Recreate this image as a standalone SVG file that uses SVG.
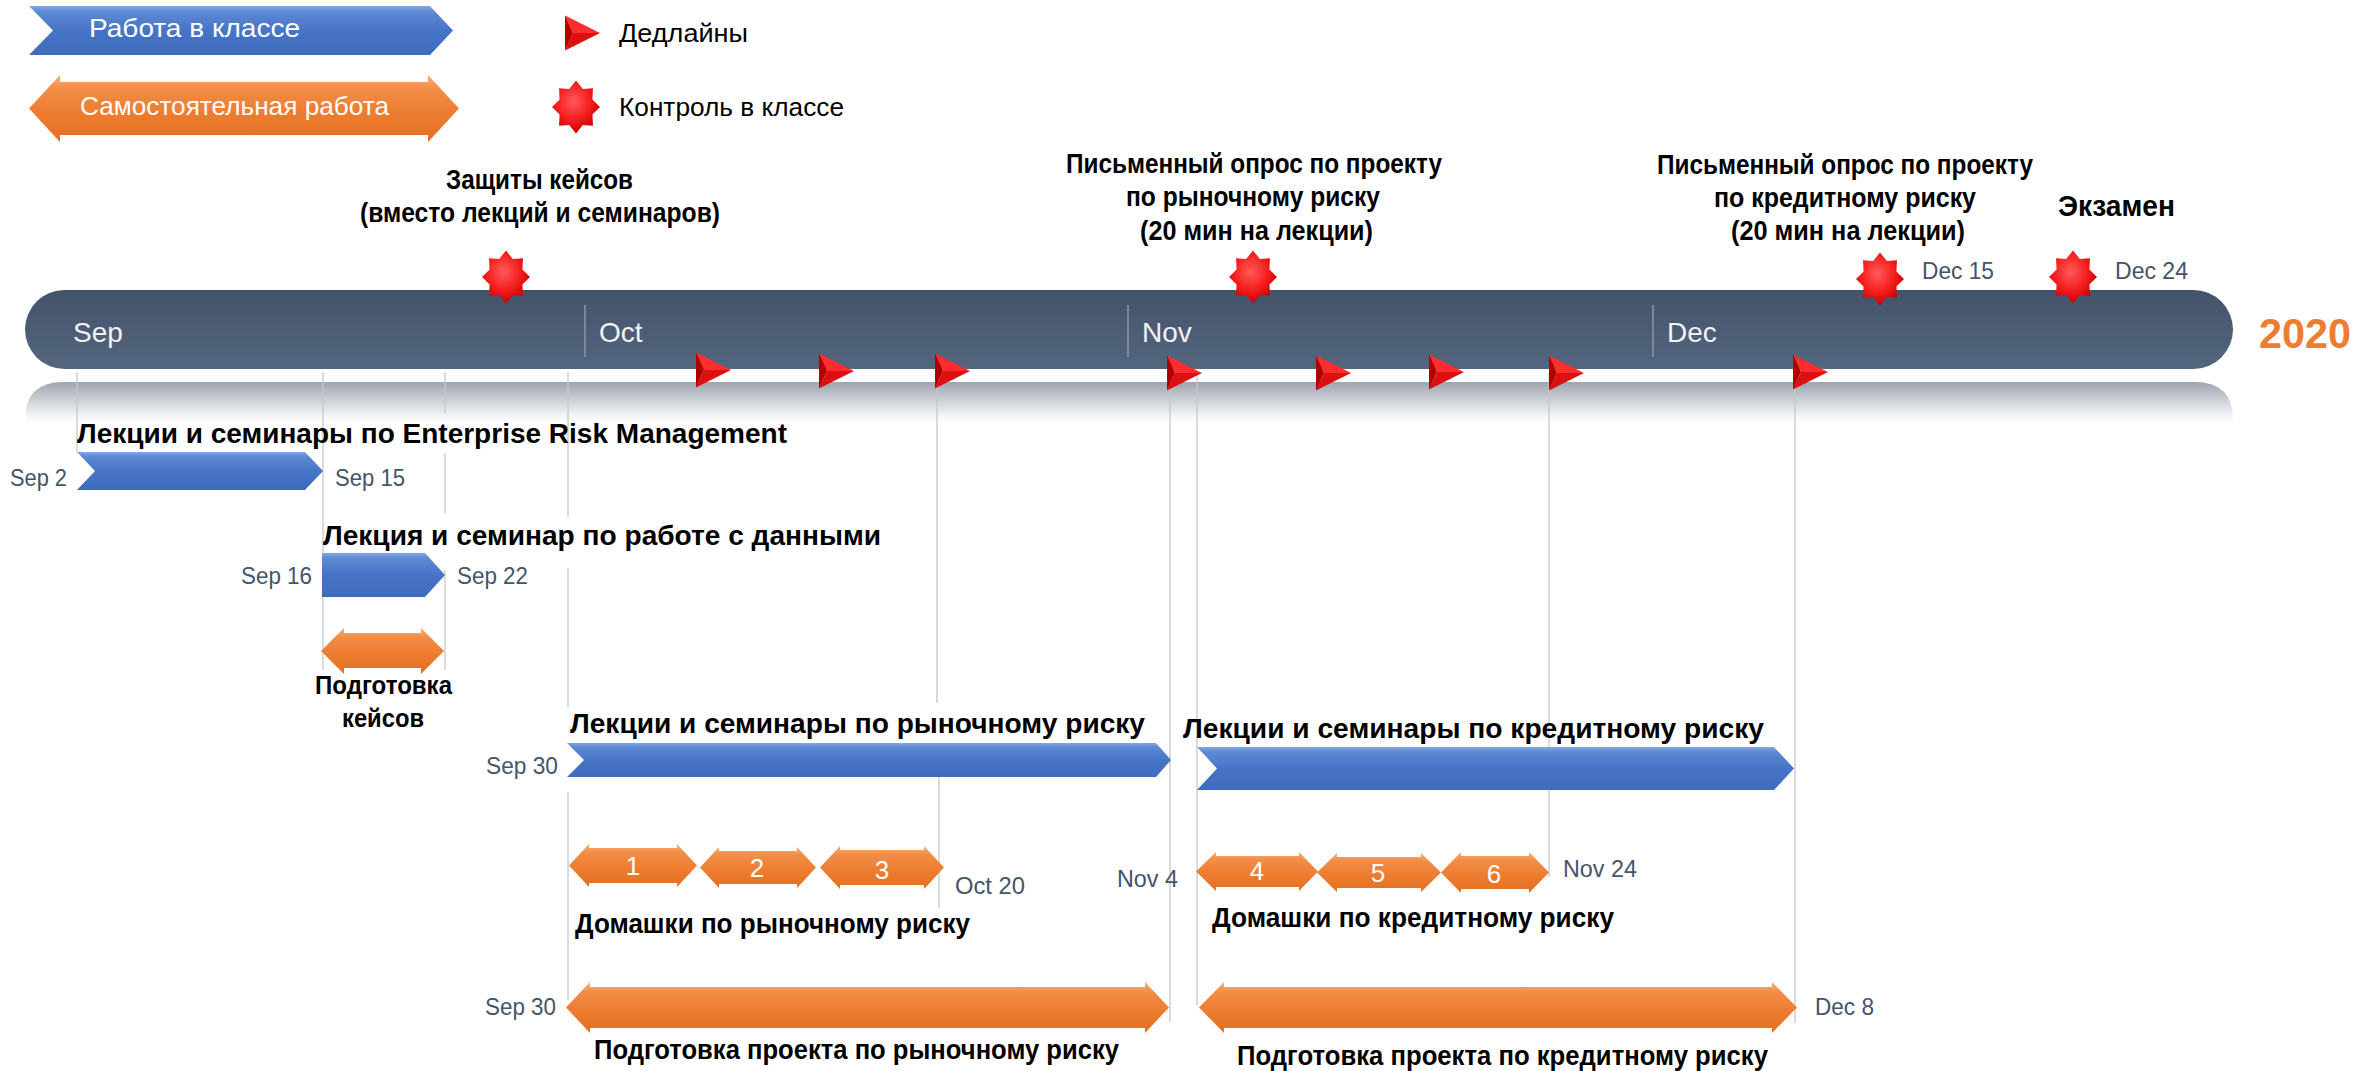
<svg xmlns="http://www.w3.org/2000/svg" width="2372" height="1071" viewBox="0 0 2372 1071">
<defs>
<style>
.t{font-family:"Liberation Sans",Arial,sans-serif}
.b{font-weight:bold;font-size:28px;fill:#000}
.b2{font-weight:bold;font-size:25px;fill:#000}
.d{font-size:24px;fill:#44546A}
.m{font-size:28px;fill:#F2F2F2}
.n{font-size:26px;fill:#FFFFFF;text-anchor:middle}
.lg{font-size:25px;fill:#000}
.lw{font-size:25px;fill:#FFFFFF}
.g{stroke:#C8C8C8;stroke-width:1.3;fill:none}
.bl{fill:url(#gBlue)}
.or{fill:url(#gOrange)}
.st{fill:url(#gStar)}
.md{stroke:#8A97AB;stroke-width:1.5}
</style>
<linearGradient id="gBar" x1="0" y1="0" x2="0" y2="1"><stop offset="0" stop-color="#43536A"/><stop offset="1" stop-color="#54657F"/></linearGradient>
<linearGradient id="gRefl" x1="0" y1="0" x2="0" y2="1"><stop offset="0" stop-color="#9EA4B0"/><stop offset="0.4" stop-color="#C9CDD4"/><stop offset="0.8" stop-color="#F3F4F6"/><stop offset="1" stop-color="#FFFFFF"/></linearGradient>
<linearGradient id="gBlue" x1="0" y1="0" x2="0" y2="1"><stop offset="0" stop-color="#86A8E4"/><stop offset="0.12" stop-color="#5D89D4"/><stop offset="0.5" stop-color="#4674C6"/><stop offset="1" stop-color="#3F6BBB"/></linearGradient>
<linearGradient id="gOrange" x1="0" y1="0" x2="0" y2="1"><stop offset="0" stop-color="#FBB073"/><stop offset="0.2" stop-color="#F28D47"/><stop offset="0.55" stop-color="#ED7D31"/><stop offset="1" stop-color="#E3701F"/></linearGradient>
<radialGradient id="gStar" cx="0.45" cy="0.4" r="0.6"><stop offset="0" stop-color="#FF5A5A"/><stop offset="0.6" stop-color="#F41C1C"/><stop offset="1" stop-color="#C80000"/></radialGradient>
<path id="star" d="M0,-26.5 L6.81,-18.11 L16.97,-18.74 L16.44,-7.5 L24,0 L16.44,7.5 L16.97,18.74 L6.81,18.11 L0,26.5 L-6.81,18.11 L-16.97,18.74 L-16.44,7.5 L-24,0 L-16.44,-7.5 L-16.97,-18.74 L-6.81,-18.11 Z"/>
<g id="tri">
<polygon points="0,-17.5 35,0 8,0" fill="#FF2E2E"/>
<polygon points="0,17.5 35,0 8,0" fill="#DC1010"/>
<polygon points="0,-17.5 8,0 0,17.5" fill="#B00000"/>
</g>
</defs>
<rect width="2372" height="1071" fill="#FFFFFF"/>

<g id="legend">
<g id="legend-class">
<polygon class="bl" points="29,6 430,6 453,30.5 430,55 29,55 53,30.5"/>
<text class="t lw" x="89" y="37" textLength="211" lengthAdjust="spacingAndGlyphs">Работа в классе</text>
</g>
<g id="legend-self">
<path class="or" d="M29,108.5 L60,75 L60,82 L428,82 L428,75 L459,108.5 L428,142 L428,135 L60,135 L60,142 Z"/>
<text class="t lw" x="80" y="115" textLength="309" lengthAdjust="spacingAndGlyphs">Самостоятельная работа</text>
</g>
<g id="legend-deadline">
<use href="#tri" x="565" y="33"/>
<text class="t lg" x="619" y="42" textLength="129" lengthAdjust="spacingAndGlyphs">Дедлайны</text>
</g>
<g id="legend-control">
<use href="#star" class="st" x="576" y="107"/>
<text class="t lg" x="619" y="116" textLength="225" lengthAdjust="spacingAndGlyphs">Контроль в классе</text>
</g>
</g>

<g id="timeline">
<path d="M25,424 L25,420 Q25,382 63,382 L2195,382 Q2233,382 2233,420 L2233,424 Z" fill="url(#gRefl)"/>
<rect x="25" y="290" width="2208" height="79" rx="39.5" fill="url(#gBar)"/>
<line class="md" x1="585" y1="305" x2="585" y2="357"/>
<line class="md" x1="1128" y1="305" x2="1128" y2="357"/>
<line class="md" x1="1653" y1="305" x2="1653" y2="357"/>
<text class="t m" x="73" y="342">Sep</text>
<text class="t m" x="599" y="342">Oct</text>
<text class="t m" x="1142" y="342">Nov</text>
<text class="t m" x="1667" y="342">Dec</text>
<text class="t" x="2259" y="348" font-size="43" font-weight="bold" fill="#ED7D31" textLength="92" lengthAdjust="spacingAndGlyphs">2020</text>
</g>

<g id="connectors">
<line class="g" x1="77" y1="372" x2="77" y2="452"/>
<line class="g" x1="323" y1="372" x2="323" y2="670"/>
<line class="g" x1="445" y1="372" x2="445" y2="413"/>
<line class="g" x1="445" y1="453" x2="445" y2="513"/>
<line class="g" x1="445" y1="570" x2="445" y2="670"/>
<line class="g" x1="568" y1="372" x2="568" y2="517"/>
<line class="g" x1="568" y1="568" x2="568" y2="707"/>
<line class="g" x1="568" y1="792" x2="568" y2="1000"/>
<line class="g" x1="937" y1="373" x2="937" y2="703"/>
<line class="g" x1="939" y1="777" x2="939" y2="908"/>
<line class="g" x1="1170" y1="373" x2="1170" y2="1022"/>
<line class="g" x1="1197" y1="373" x2="1197" y2="1005"/>
<line class="g" x1="1549" y1="373" x2="1549" y2="877"/>
<line class="g" x1="1795" y1="373" x2="1795" y2="1023"/>
</g>

<g id="deadlines">
<use href="#tri" x="696" y="370"/>
<use href="#tri" x="819" y="371"/>
<use href="#tri" x="935" y="371"/>
<use href="#tri" x="1167" y="373"/>
<use href="#tri" x="1316" y="373"/>
<use href="#tri" x="1429" y="372"/>
<use href="#tri" x="1549" y="373"/>
<use href="#tri" x="1793" y="372"/>
</g>

<g id="control-cases">
<use href="#star" class="st" x="506" y="277"/>
<text class="t b" x="446" y="189" textLength="187" lengthAdjust="spacingAndGlyphs">Защиты кейсов</text>
<text class="t b" x="360" y="222" textLength="360" lengthAdjust="spacingAndGlyphs">(вместо лекций и семинаров)</text>
</g>
<g id="control-market">
<use href="#star" class="st" x="1253" y="277"/>
<text class="t b" x="1066" y="173" textLength="376" lengthAdjust="spacingAndGlyphs">Письменный опрос по проекту</text>
<text class="t b" x="1126" y="206" textLength="254" lengthAdjust="spacingAndGlyphs">по рыночному риску</text>
<text class="t b" x="1140" y="240" textLength="233" lengthAdjust="spacingAndGlyphs">(20 мин на лекции)</text>
</g>
<g id="control-credit">
<use href="#star" class="st" x="1880" y="279"/>
<text class="t b" x="1657" y="174" textLength="376" lengthAdjust="spacingAndGlyphs">Письменный опрос по проекту</text>
<text class="t b" x="1714" y="207" textLength="262" lengthAdjust="spacingAndGlyphs">по кредитному риску</text>
<text class="t b" x="1731" y="240" textLength="234" lengthAdjust="spacingAndGlyphs">(20 мин на лекции)</text>
<text class="t d" x="1922" y="279" textLength="72" lengthAdjust="spacingAndGlyphs">Dec 15</text>
</g>
<g id="exam">
<use href="#star" class="st" x="2073" y="277"/>
<text class="t" x="2058" y="216" font-size="29" font-weight="bold" fill="#000" textLength="117" lengthAdjust="spacingAndGlyphs">Экзамен</text>
<text class="t d" x="2115" y="279" textLength="73" lengthAdjust="spacingAndGlyphs">Dec 24</text>
</g>

<g id="erm">
<polygon class="bl" points="77,452 305,452 323,471 305,490 77,490 95,471"/>
<text class="t b" x="77" y="443" textLength="710" lengthAdjust="spacingAndGlyphs">Лекции и семинары по Enterprise Risk Management</text>
<text class="t d" x="10" y="486" textLength="57" lengthAdjust="spacingAndGlyphs">Sep 2</text>
<text class="t d" x="335" y="486" textLength="70" lengthAdjust="spacingAndGlyphs">Sep 15</text>
</g>

<g id="data">
<polygon class="bl" points="322,553 425,553 445,575 425,597 322,597"/>
<text class="t b" x="323" y="545" textLength="558" lengthAdjust="spacingAndGlyphs">Лекция и семинар по работе с данными</text>
<text class="t d" x="241" y="584" textLength="71" lengthAdjust="spacingAndGlyphs">Sep 16</text>
<text class="t d" x="457" y="584" textLength="71" lengthAdjust="spacingAndGlyphs">Sep 22</text>
</g>

<g id="cases-prep">
<path class="or" d="M321,651 L344,628 L344,633 L421,633 L421,628 L444,651 L421,674 L421,668 L344,668 L344,674 Z"/>
<text class="t b2" x="315" y="694" textLength="137" lengthAdjust="spacingAndGlyphs">Подготовка</text>
<text class="t b2" x="342" y="727" textLength="82" lengthAdjust="spacingAndGlyphs">кейсов</text>
</g>

<g id="market-lectures">
<polygon class="bl" points="567,743 1156,743 1171,760 1156,777 567,777 584,760"/>
<text class="t b" x="570" y="733" textLength="575" lengthAdjust="spacingAndGlyphs">Лекции и семинары по рыночному риску</text>
<text class="t d" x="486" y="774" textLength="72" lengthAdjust="spacingAndGlyphs">Sep 30</text>
</g>

<g id="credit-lectures">
<polygon class="bl" points="1197,747 1774,747 1794,768.5 1774,790 1197,790 1217,768.5"/>
<text class="t b" x="1183" y="738" textLength="581" lengthAdjust="spacingAndGlyphs">Лекции и семинары по кредитному риску</text>
</g>

<g id="market-homework">
<path class="or" d="M569,865.5 L589,844 L589,848 L677,848 L677,844 L697,865.5 L677,887 L677,883 L589,883 L589,887 Z"/>
<path class="or" d="M700,867.5 L719,847 L719,851 L797,851 L797,847 L816,867.5 L797,888 L797,884 L719,884 L719,888 Z"/>
<path class="or" d="M820,867.5 L840,846 L840,850 L924,850 L924,846 L944,867.5 L924,889 L924,885 L840,885 L840,889 Z"/>
<text class="t n" x="633" y="875">1</text>
<text class="t n" x="757" y="877">2</text>
<text class="t n" x="882" y="879">3</text>
<text class="t b" x="575" y="933" textLength="395" lengthAdjust="spacingAndGlyphs">Домашки по рыночному риску</text>
<text class="t d" x="955" y="894" textLength="70" lengthAdjust="spacingAndGlyphs">Oct 20</text>
<text class="t d" x="1117" y="887" textLength="61" lengthAdjust="spacingAndGlyphs">Nov 4</text>
</g>

<g id="credit-homework">
<path class="or" d="M1196,871.5 L1216,852 L1216,856 L1299,856 L1299,852 L1318,871.5 L1299,891 L1299,887 L1216,887 L1216,891 Z"/>
<path class="or" d="M1317,872.5 L1337,853 L1337,857 L1421,857 L1421,853 L1441,872.5 L1421,892 L1421,888 L1337,888 L1337,892 Z"/>
<path class="or" d="M1441,872.5 L1461,852 L1461,856 L1529,856 L1529,852 L1549,872.5 L1529,893 L1529,889 L1461,889 L1461,893 Z"/>
<text class="t n" x="1257" y="880">4</text>
<text class="t n" x="1378" y="882">5</text>
<text class="t n" x="1494" y="883">6</text>
<text class="t b" x="1212" y="927" textLength="402" lengthAdjust="spacingAndGlyphs">Домашки по кредитному риску</text>
<text class="t d" x="1563" y="877" textLength="74" lengthAdjust="spacingAndGlyphs">Nov 24</text>
</g>

<g id="market-project">
<path class="or" d="M566,1007.5 L590,982 L590,987 L1145,987 L1145,982 L1169,1007.5 L1145,1033 L1145,1028 L590,1028 L590,1033 Z"/>
<text class="t b" x="594" y="1059" textLength="525" lengthAdjust="spacingAndGlyphs">Подготовка проекта по рыночному риску</text>
<text class="t d" x="485" y="1015" textLength="71" lengthAdjust="spacingAndGlyphs">Sep 30</text>
</g>

<g id="credit-project">
<path class="or" d="M1199,1007.5 L1224,982 L1224,987 L1772,987 L1772,982 L1797,1007.5 L1772,1033 L1772,1028 L1224,1028 L1224,1033 Z"/>
<text class="t b" x="1237" y="1065" textLength="531" lengthAdjust="spacingAndGlyphs">Подготовка проекта по кредитному риску</text>
<text class="t d" x="1815" y="1015" textLength="59" lengthAdjust="spacingAndGlyphs">Dec 8</text>
</g>
</svg>
